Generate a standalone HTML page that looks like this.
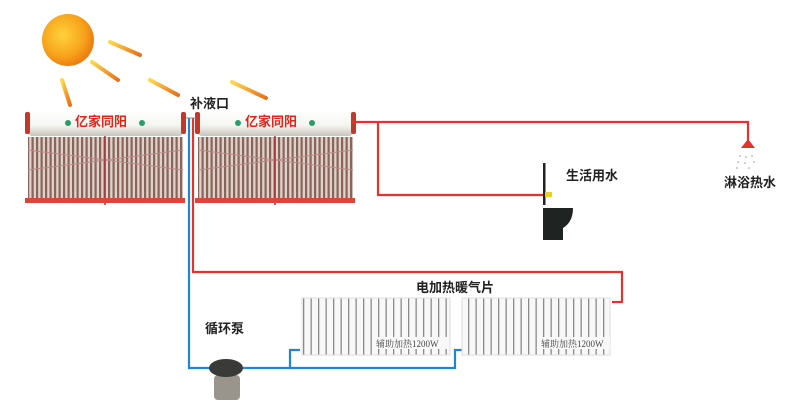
<!DOCTYPE html>
<html><head><meta charset="utf-8"><style>
html,body{margin:0;padding:0;background:#fff;}
svg{display:block;font-family:"Liberation Serif","Noto Serif CJK SC","Noto Sans CJK SC",serif;}
</style></head><body>
<svg width="800" height="402" viewBox="0 0 800 402" xmlns="http://www.w3.org/2000/svg">
<defs>
<radialGradient id="sun" cx="0.4" cy="0.4" r="0.6"><stop offset="0" stop-color="#ffd23a"/><stop offset="0.7" stop-color="#f7a21b"/><stop offset="1" stop-color="#ee7f12"/></radialGradient>
<linearGradient id="ray" x1="0" y1="0" x2="1" y2="1"><stop offset="0" stop-color="#ffd84a"/><stop offset="1" stop-color="#e8701a"/></linearGradient>
<linearGradient id="tank" x1="0" y1="0" x2="0" y2="1"><stop offset="0" stop-color="#fff"/><stop offset="0.6" stop-color="#f4f4f0"/><stop offset="1" stop-color="#c9c5bd"/></linearGradient>
<pattern id="tubes" width="4.5" height="10" patternUnits="userSpaceOnUse"><rect width="4.5" height="10" fill="#ddd3cc"/><rect x="0" width="2.2" height="10" fill="#8a6458"/></pattern>
<pattern id="rad" width="7.5" height="10" patternUnits="userSpaceOnUse"><rect width="7.5" height="10" fill="#f8f8f8"/><rect x="3" width="1.3" height="10" fill="#8a8a8a"/></pattern>
</defs>
<rect width="800" height="402" fill="#fff"/>
<circle cx="68" cy="40" r="26" fill="url(#sun)"/>
<g stroke="url(#ray)" stroke-width="4" stroke-linecap="round">
<line x1="110" y1="42" x2="140" y2="55"/>
<line x1="92" y1="62" x2="118" y2="80"/>
<line x1="62" y1="80" x2="70" y2="105"/>
<line x1="150" y1="80" x2="178" y2="95"/>
<line x1="232" y1="82" x2="266" y2="98"/>
</g>
<g id="h1">
<rect x="28" y="137" width="155" height="63" fill="url(#tubes)"/>
<line x1="28" y1="170" x2="183" y2="150" stroke="#b88" stroke-width="1"/>
<line x1="28" y1="150" x2="183" y2="170" stroke="#b88" stroke-width="1"/>
<line x1="105" y1="135" x2="105" y2="205" stroke="#a33" stroke-width="1.5"/>
<rect x="25" y="198" width="160" height="5" fill="#d8473a"/>
<rect x="28" y="110" width="155" height="26" rx="4" fill="url(#tank)"/>
<rect x="25" y="112" width="5" height="22" rx="2" fill="#c0392b"/>
<rect x="181" y="112" width="5" height="22" rx="2" fill="#c0392b"/>
<text x="75" y="126" font-size="13" font-weight="bold" fill="#e2231a" font-family="Liberation Sans,Noto Sans CJK SC,sans-serif">亿家同阳</text>
<circle cx="68" cy="123" r="3" fill="#2a9d6a"/><circle cx="142" cy="123" r="3" fill="#2a9d6a"/>
</g>
<use href="#h1" x="170"/>
<g fill="none" stroke-width="2.2">
<polyline points="189,118 189,368 290,368 290,350 300,350" stroke="#1f86d6"/>
<polyline points="290,368 455,368 455,350 462,350" stroke="#1f86d6"/>
<polyline points="193,118 193,272 622,272 622,302 612,302" stroke="#e5322a"/>
<polyline points="352,122 748,122 748,140" stroke="#e5322a"/>
<polyline points="378,122 378,195 545,195" stroke="#e5322a"/>
</g>
<path d="M186 118 h10" stroke="#888" stroke-width="1"/>
<polygon points="741,148 748,139 755,148" fill="#e5322a"/>
<g fill="#999"><circle cx="740" cy="156" r=".8"/><circle cx="746" cy="157" r=".8"/><circle cx="752" cy="156" r=".8"/><circle cx="738" cy="162" r=".8"/><circle cx="745" cy="163" r=".8"/><circle cx="754" cy="162" r=".8"/><circle cx="737" cy="168" r=".8"/><circle cx="749" cy="168" r=".8"/></g>
<rect x="543" y="163" width="2.5" height="42" fill="#222"/>
<rect x="545" y="192" width="7" height="5" fill="#e9d21a"/>
<path d="M543 208 H573 Q573 222 563 228 V240 H543 Z" fill="#1f2322"/>
<rect x="302" y="298" width="148" height="57" fill="url(#rad)" stroke="#ddd"/>
<rect x="462" y="298" width="148" height="57" fill="url(#rad)" stroke="#ddd"/>
<rect x="375" y="337" width="72" height="12" fill="#f8f8f8"/>
<rect x="540" y="337" width="70" height="12" fill="#f8f8f8"/>
<text x="376" y="347" font-size="9" fill="#444">辅助加热1200W</text>
<text x="541" y="347" font-size="9" fill="#444">辅助加热1200W</text>
<rect x="214" y="375" width="26" height="25" rx="4" fill="#9a958c"/>
<ellipse cx="226" cy="368" rx="17" ry="9" fill="#3a3b39"/>
<g font-size="13" fill="#222" font-weight="bold" font-family="Liberation Sans,Noto Sans CJK SC,sans-serif">
<text x="190" y="108">补液口</text>
<text x="566" y="180">生活用水</text>
<text x="724" y="187">淋浴热水</text>
<text x="416" y="292">电加热暖气片</text>
<text x="205" y="333">循环泵</text>
</g>
</svg>
</body></html>
